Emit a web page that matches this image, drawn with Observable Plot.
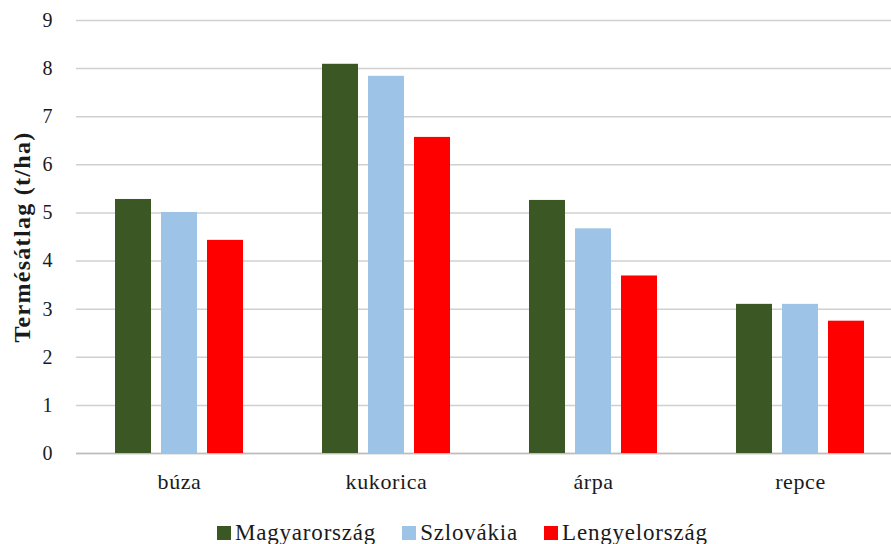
<!DOCTYPE html>
<html>
<head>
<meta charset="utf-8">
<script src="https://cdn.jsdelivr.net/npm/d3@7"></script>
<script src="https://cdn.jsdelivr.net/npm/@observablehq/plot@0.6"></script>
<style>
  html, body { margin: 0; padding: 0; background: #fff; overflow: hidden; }
  #wrap { position: relative; width: 891px; height: 544px; overflow: hidden; }
  #chart svg { max-width: none !important; height: 512px !important; }
  #legend {
    position: absolute; top: 521px; left: 217px;
    font-family: "Liberation Serif", "Times New Roman", serif;
    font-size: 23px; line-height: 23px; color: #1a1a1a;
    display: flex; gap: 26px; white-space: nowrap;
  }
  #legend span.item { letter-spacing: 0.8px; }
  #legend span.sw { display: inline-block; width: 14px; height: 14px; margin-right: 4px; vertical-align: baseline; }
  .ylab text { letter-spacing: 1.3px; }
</style>
</head>
<body>
<div id="wrap">
  <div id="chart"></div>
  <div id="legend"></div>
</div>
<script>
const categories = ["búza", "kukorica", "árpa", "repce"];
const seriesNames = ["Magyarország", "Szlovákia", "Lengyelország"];
const seriesColors = ["#3a5724", "#9dc3e6", "#ff0000"];
const magyarorszag = [5.28, 8.09, 5.26, 3.10];
const szlovakia = [5.01, 7.84, 4.67, 3.10];
const lengyelorszag = [4.43, 6.57, 3.69, 2.75];
const yTicks = [0, 1, 2, 3, 4, 5, 6, 7, 8, 9];
const yLabel = "Termésátlag (t/ha)";

const seriesValues = [magyarorszag, szlovakia, lengyelorszag];
const data = [];
seriesNames.forEach((s, si) => {
  categories.forEach((c, ci) => data.push({category: c, series: s, value: seriesValues[si][ci]}));
});
const offsets = [-46, 0, 46];

const marks = [
  Plot.gridY(yTicks, {stroke: "#d0d0d0", strokeOpacity: 1, strokeWidth: 1.5}),
  Plot.ruleY([0], {stroke: "#bdbdbd", strokeWidth: 1.5}),
  ...seriesNames.map((s, si) => Plot.barY(data.filter(d => d.series === s), {
    x: "category", y: "value", fill: seriesColors[si], dx: offsets[si]
  })),
  Plot.axisY(yTicks, {tickSize: 0, tickPadding: 24, fontSize: 20, label: null, fill: "#1a1a1a"}),
  Plot.axisX({tickSize: 0, tickPadding: 20, fontSize: 22, label: null, fill: "#1a1a1a"}),
  Plot.text([yLabel], {frameAnchor: "left", textAnchor: "middle", text: d => d, rotate: -90, dx: -54, dy: 0,
    fontSize: 24, fontWeight: "bold", fill: "#1a1a1a", className: "ylab"})
];

const plot = Plot.plot({
  width: 904,
  height: 512,
  marginLeft: 76,
  marginRight: 0,
  marginTop: 20,
  marginBottom: 59,
  style: {fontFamily: "Liberation Serif, Times New Roman, serif", background: "#fff", color: "#1a1a1a", maxWidth: "none"},
  x: {domain: categories, paddingInner: 0.826, paddingOuter: 0.413, axis: null},
  y: {domain: [0, 9], axis: null},
  marks
});
plot.style.maxWidth = "none";
plot.querySelectorAll("text").forEach(t => {
  if (categories.includes(t.textContent)) t.style.letterSpacing = "0.6px";
});
document.getElementById("chart").appendChild(plot);

const legend = document.getElementById("legend");
seriesNames.forEach((s, i) => {
  const item = document.createElement("span");
  item.className = "item";
  const sw = document.createElement("span");
  sw.className = "sw";
  sw.style.background = seriesColors[i];
  item.appendChild(sw);
  item.appendChild(document.createTextNode(s));
  legend.appendChild(item);
});
</script>
</body>
</html>
